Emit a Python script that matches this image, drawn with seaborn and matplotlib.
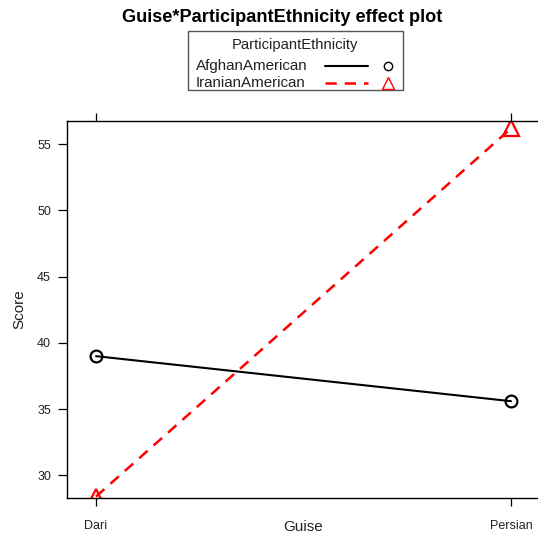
import matplotlib
matplotlib.use("Agg")
import matplotlib.pyplot as plt
from matplotlib.lines import Line2D
from matplotlib.patches import Rectangle
import seaborn as sns
import pandas as pd

# Effect estimates for the Guise x ParticipantEthnicity interaction
guise = ["Dari", "Persian"]
afghan_scores = [39.0, 35.6]
iranian_scores = [28.4, 56.2]
groups = ["AfghanAmerican", "IranianAmerican"]
yticks = [30, 35, 40, 45, 50, 55]

df = pd.DataFrame({
    "Guise": guise * 2,
    "Score": afghan_scores + iranian_scores,
    "ParticipantEthnicity": [groups[0]] * 2 + [groups[1]] * 2,
})

sns.set_theme(style="white")
plt.rcParams["font.family"] = ["Liberation Sans", "DejaVu Sans"]

fig = plt.figure(figsize=(5.38, 5.39), dpi=100)
W, H = 538, 539
left, right, top, bottom = 67, 540, 120.7, 498
ax = fig.add_axes([left / W, 1 - bottom / H, (right - left) / W, (bottom - top) / H])

colors = {groups[0]: "black", groups[1]: "#FF0000"}
markers = {groups[0]: "o", groups[1]: "^"}
styles = {groups[0]: "-", groups[1]: (0, (4.5, 3.2))}
widths = {groups[0]: 1.5, groups[1]: 1.8}

for g in groups:
    sub = df[df["ParticipantEthnicity"] == g]
    sns.lineplot(data=sub, x="Guise", y="Score", ax=ax, color=colors[g],
                 linestyle=styles[g], linewidth=widths[g], marker=markers[g],
                 markersize=8.5 if g == groups[0] else 11, markerfacecolor="none",
                 markeredgecolor=colors[g], markeredgewidth=1.6, legend=False)

ax.set_xlim(-29 / 415, 1 + 29 / 415)
ax.set_ylim(28.29, 56.78)
ax.set_yticks(yticks)
ax.set_xticks([0, 1])
ax.set_xticklabels(guise)

for s in ax.spines.values():
    s.set_color("black")
    s.set_linewidth(1.0)

ax.tick_params(axis="y", which="both", left=True, right=False, direction="out",
               length=6.5, width=0.9, color="black", labelsize=9, labelcolor="#222222", pad=5)
ax.tick_params(axis="x", which="both", bottom=True, top=True, direction="out",
               length=5.5, width=0.9, color="black", labelsize=9, labelcolor="#222222", pad=10)

ax.set_xlabel("Guise", fontsize=11, color="#222222", labelpad=-8)
ax.set_ylabel("Score", fontsize=11, color="#222222", labelpad=8)

fig.text(282 / W, 1 - 17 / H, "Guise*ParticipantEthnicity effect plot",
         ha="center", va="center", fontsize=13.1, fontweight="bold", color="black")

# Key box above the panel
fig.patches.append(Rectangle((188 / W, 1 - 90 / H), (403 - 188) / W, (90 - 31) / H,
                             transform=fig.transFigure, fill=False,
                             edgecolor="#555555", linewidth=1.0))
fig.text(295 / W, 1 - 45 / H, "ParticipantEthnicity", ha="center", va="center",
         fontsize=10.6, color="#222222")
rows = [66, 83]
for g, yy in zip(groups, rows):
    fig.text(196 / W, 1 - yy / H, g, ha="left", va="center", fontsize=10.9,
             color="#222222")
    fig.lines.append(Line2D([325 / W, 368 / W], [1 - yy / H] * 2,
                            transform=fig.transFigure, color=colors[g],
                            linestyle=styles[g], linewidth=widths[g]))
    fig.lines.append(Line2D([388 / W], [1 - yy / H], transform=fig.transFigure,
                            marker=markers[g], markersize=6 if g == groups[0] else 8,
                            markerfacecolor="none", markeredgecolor=colors[g],
                            markeredgewidth=1.0, linestyle="none"))

fig.savefig("out.png", dpi=100)
